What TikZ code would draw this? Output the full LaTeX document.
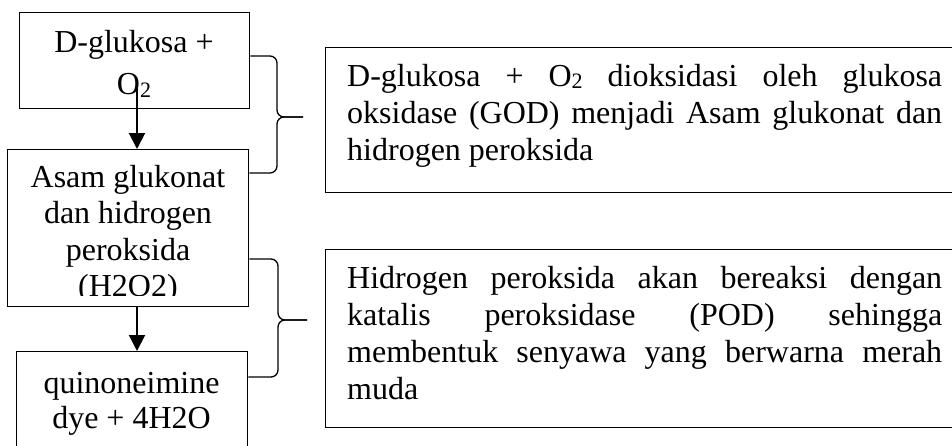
\documentclass[tikz,border=0pt]{standalone}
\usepackage{fontspec}
\setmainfont{Liberation Serif}
\usetikzlibrary{arrows.meta}
\newcommand{\subtwo}{\raisebox{-2.5pt}{\fontsize{22}{22}\selectfont 2}}
\begin{document}
\begin{tikzpicture}[x=1pt,y=1pt,
  boxstyle/.style={draw, line width=1.3pt, inner sep=0pt, anchor=north west},
  flowarrow/.style={line width=2pt, -{Triangle[length=16pt,width=16pt]}},
  bracestyle/.style={line width=1.3pt, rounded corners=7pt},
  lefttxt/.style={inner sep=0pt, anchor=base, font=\fontsize{32}{36.5}\selectfont},
  righttxt/.style={inner sep=0pt, anchor=base west, font=\fontsize{32}{37}\selectfont},
]
\useasboundingbox (0,0) rectangle (952,-445);
% boxes
\node[boxstyle, minimum width=230pt, minimum height=96pt] (b1) at (19,-12) {};
\node[boxstyle, minimum width=241pt, minimum height=157pt] (b2) at (7,-149) {};
\node[boxstyle, minimum width=231pt, minimum height=110pt] (b3) at (16,-351) {};
\node[boxstyle, minimum width=640pt, minimum height=145pt] (r1) at (325,-47) {};
\node[boxstyle, minimum width=640pt, minimum height=178pt] (r2) at (325,-249) {};
% left texts
\node[lefttxt] (t1) at (134,-52) {\vtop{\hsize=230pt\centering D-glukosa +\\[6pt] O\subtwo}};
\begin{scope}
\clip (7,-149) rectangle (248,-295.5);
\node[lefttxt] (t2) at (128,-187) {\vtop{\hsize=241pt\centering Asam glukonat\\ dan hidrogen\\ peroksida\\ (H2O2)}};
\end{scope}
\node[lefttxt, font=\fontsize{32}{35}\selectfont] (t3) at (131.5,-393) {\vtop{\hsize=231pt\centering quinoneimine\\ dye + 4H2O}};
% right texts
\node[righttxt] (rt1) at (347,-86) {\vtop{\hsize=595pt\parindent=0pt\tolerance=10000\hyphenpenalty=10000\exhyphenpenalty=10000 D-glukosa + O\subtwo{} dioksidasi oleh glukosa\linebreak oksidase (GOD) menjadi Asam glukonat dan\linebreak hidrogen peroksida}};
\node[righttxt] (rt2) at (347,-288) {\vtop{\hsize=595pt\parindent=0pt\tolerance=10000\hyphenpenalty=10000\exhyphenpenalty=10000 Hidrogen peroksida akan bereaksi dengan\linebreak katalis peroksidase (POD) sehingga\linebreak membentuk senyawa yang berwarna merah\linebreak muda}};
% arrows
\coordinate (a1s) at (137,-87);
\draw[flowarrow] (a1s) -- (a1s |- b2.north);
\draw[flowarrow] (b2.south -| a1s) -- (b3.north -| a1s);
% braces
\coordinate (tip1) at (303,-117);
\coordinate (tip2) at (307,-320);
\draw[bracestyle] (b1.east |- 0,-56) -- (277,-56) -- (277,-117) -- (tip1);
\draw[bracestyle] (b2.east |- 0,-173) -- (277,-173) -- (277,-117) -- (tip1);
\draw[bracestyle] (b2.east |- 0,-259) -- (278,-259) -- (278,-320) -- (tip2);
\draw[bracestyle] (b3.east |- 0,-377) -- (278,-377) -- (278,-320) -- (tip2);
\end{tikzpicture}
\end{document}
